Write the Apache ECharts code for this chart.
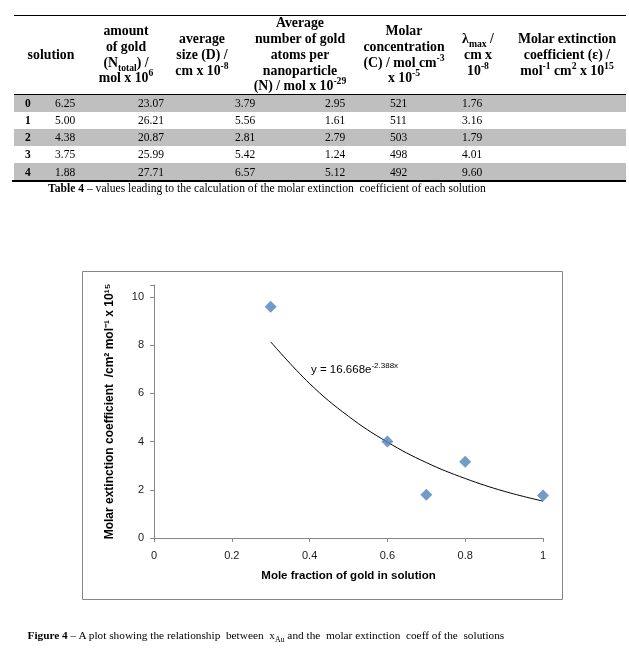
<!DOCTYPE html>
<html>
<head>
<meta charset="utf-8">
<script src="https://cdn.jsdelivr.net/npm/echarts@6/dist/echarts.min.js"></script>
<style>
  html, body { margin: 0; padding: 0; background: #fff; width: 629px; height: 654px; overflow: hidden; }
  #chart { position: absolute; left: 0; top: 0; width: 629px; height: 654px; }
  #doc { position: absolute; left: 0; top: 0; width: 629px; height: 654px; pointer-events: none;
         font-family: "Liberation Serif", "DejaVu Serif", serif; color: #000; }
  .hline { position: absolute; background: #000; }
  .band { position: absolute; background: #bfbfbf; }
  .hcell { position: absolute; display: flex; align-items: center; justify-content: center; }
  .hcell > div { text-align: center; font-weight: bold; font-size: 13.8px; line-height: 15.7px; white-space: nowrap; }
  .cell { position: absolute; font-size: 11.5px; line-height: 17px; white-space: nowrap; }
  .rowlab { font-weight: bold; }
  sup { font-size: 70%; vertical-align: super; line-height: 0; }
  sub { font-size: 70%; vertical-align: sub; line-height: 0; }
  .cap { position: absolute; white-space: nowrap; }
</style>
</head>
<body>
<div id="chart"></div>
<div id="doc"></div>
<script>
// ---- table data ----
const solutions   = ['0', '1', '2', '3', '4'];
const amountGold  = ['6.25', '5.00', '4.38', '3.75', '1.88'];
const avgSize     = ['23.07', '26.21', '20.87', '25.99', '27.71'];
const avgAtoms    = ['3.79', '5.56', '2.81', '5.42', '6.57'];
const molarConc   = ['2.95', '1.61', '2.79', '1.24', '5.12'];
const lambdaMax   = ['521', '511', '503', '498', '492'];
const extinction  = [1.76, 3.16, 1.79, 4.01, 9.60];
const headers = [
  'solution',
  'amount<br>of gold<br>(N<sub>total</sub>) /<br>mol x 10<sup>6</sup>',
  'average<br>size (D) /<br>cm x 10<sup>-8</sup>',
  'Average<br>number of gold<br>atoms per<br>nanoparticle<br>(N) / mol x 10<sup>-29</sup>',
  'Molar<br>concentration<br>(C) / mol cm<sup>-3</sup><br>x 10<sup>-5</sup>',
  'λ<sub>max</sub> /<br>cm x<br>10<sup>-8</sup>',
  'Molar extinction<br>coefficient (ε) /<br>mol<sup>-1</sup> cm<sup>2</sup> x 10<sup>15</sup>'
];
const tableCaption = '<b>Table 4</b> – values leading to the calculation of the molar extinction &nbsp;coefficient of each solution';
const figureCaption = '<b>Figure 4</b> – A plot showing the relationship &nbsp;between &nbsp;x<sub>Au</sub> and the &nbsp;molar extinction &nbsp;coeff of the &nbsp;solutions';

// ---- chart data ----
const moleFraction = [1.0, 0.8, 0.7, 0.6, 0.3];   // solutions 0..4
const trendX = [0.3, 0.4, 0.5, 0.6, 0.7, 0.8, 0.9, 1.0];
const trendY = [8.14, 6.41, 5.05, 3.98, 3.13, 2.47, 1.94, 1.53];
const xTicks = [0, 0.2, 0.4, 0.6, 0.8, 1];
const yTicks = [0, 2, 4, 6, 8, 10];
const xTitle = 'Mole fraction of gold in solution';
const yTitle = 'Molar extinction coefficient  /cm² mol⁻¹ x 10¹⁵';
const trendLabel = ['y = 16.668e', '-2.388x'];

// ---- build table (layout) ----
const doc = document.getElementById('doc');
function add(cls, style, html) {
  const d = document.createElement('div');
  d.className = cls;
  Object.assign(d.style, style);
  if (html !== undefined) d.innerHTML = html;
  doc.appendChild(d);
  return d;
}
const tblLeft = 14, tblRight = 626, headTop = 15, headBottom = 94.5, rowH = 17.2;
const headCenters = [51, 126, 202, 300, 404, 478, 567];
const headWidths  = [70, 80, 80, 120, 110, 60, 120];
headers.forEach((h, i) => add('hcell', {
  left: (headCenters[i] - headWidths[i] / 2) + 'px', width: headWidths[i] + 'px',
  top: headTop + 'px', height: (headBottom - headTop) + 'px'
}, '<div>' + h + '</div>'));
const colLeft = [25, 55, 138, 235, 325, 390, 462];
const columns = [solutions, amountGold, avgSize, avgAtoms, molarConc, lambdaMax, extinction.map(v => v.toFixed(2))];
solutions.forEach((s, r) => {
  const top = headBottom + r * rowH;
  if (r % 2 === 0) add('band', { left: tblLeft + 'px', width: (tblRight - tblLeft) + 'px', top: top + 'px', height: rowH + 'px' });
  columns.forEach((col, c) => add('cell' + (c === 0 ? ' rowlab' : ''), {
    left: colLeft[c] + 'px', top: (top + 0.2) + 'px'
  }, col[r]));
});
add('hline', { left: tblLeft + 'px', width: (tblRight - tblLeft) + 'px', top: '14.5px', height: '1.5px' });
add('hline', { left: tblLeft + 'px', width: (tblRight - tblLeft) + 'px', top: (headBottom - 0.5) + 'px', height: '1px' });
add('hline', { left: '12px', width: (tblRight - 12) + 'px', top: (headBottom + 5 * rowH - 0.5) + 'px', height: '1.5px' });
const tc = add('cap', { top: '182px', fontSize: '11.6px' }, tableCaption);
tc.style.left = (267 - tc.offsetWidth / 2) + 'px';
const fc = add('cap', { top: '629px', fontSize: '11.3px' }, figureCaption);
fc.style.left = (266 - fc.offsetWidth / 2) + 'px';

// ---- chart ----
const chart = echarts.init(document.getElementById('chart'), null, { renderer: 'canvas' });
const axisFont = { fontFamily: 'Liberation Sans', fontSize: 11, color: '#1a1a1a' };
const titleFont = { fontFamily: 'Liberation Sans', fontSize: 11.5, fontWeight: 'bold', color: '#000' };
chart.setOption({
  animation: false,
  backgroundColor: 'transparent',
  grid: { left: 154, right: 86, top: 285, bottom: 116, containLabel: false },
  graphic: [
    { type: 'rect', shape: { x: 82.5, y: 271.5, width: 480, height: 328 }, style: { fill: 'none', stroke: '#868686', lineWidth: 1 }, silent: true },
    { type: 'text', left: 311, top: 362, style: {
        text: '{a|' + trendLabel[0] + '}{b|' + trendLabel[1] + '}',
        rich: {
          a: { fontFamily: 'Liberation Sans', fontSize: 11.5, color: '#000', lineHeight: 14, verticalAlign: 'bottom' },
          b: { fontFamily: 'Liberation Sans', fontSize: 8, color: '#000', lineHeight: 14, verticalAlign: 'top' }
        } } }
  ],
  xAxis: {
    type: 'value', min: 0, max: 1, interval: 0.2,
    name: xTitle, nameLocation: 'middle', nameGap: 32, nameTextStyle: titleFont,
    axisLine: { lineStyle: { color: '#868686' } },
    axisTick: { show: true, length: 4, lineStyle: { color: '#868686' } },
    axisLabel: Object.assign({ margin: 12, formatter: v => xTicks.includes(+v.toFixed(1)) ? String(+v.toFixed(1)) : '' }, axisFont),
    splitLine: { show: false }
  },
  yAxis: {
    type: 'value', min: 0, max: 10.5, interval: 2,
    name: yTitle, nameLocation: 'middle', nameGap: 38, nameRotate: 90,
    nameTextStyle: Object.assign({}, titleFont, { fontSize: 12 }),
    axisLine: { show: true, lineStyle: { color: '#868686' } },
    axisTick: { show: true, length: 4, lineStyle: { color: '#868686' } },
    axisLabel: Object.assign({ margin: 10, formatter: v => yTicks.includes(v) ? String(v) : '' }, axisFont),
    splitLine: { show: false }
  },
  series: [
    { type: 'line', data: trendX.map((x, i) => [x, trendY[i]]), smooth: 0.4, showSymbol: false, symbol: 'none',
      lineStyle: { color: '#000', width: 1 }, z: 2, silent: true },
    { type: 'scatter', data: moleFraction.map((x, i) => [x, extinction[i]]), symbol: 'diamond', symbolSize: 12,
      itemStyle: { color: '#4F81BD' }, z: 3 }
  ]
});
</script>
</body>
</html>
